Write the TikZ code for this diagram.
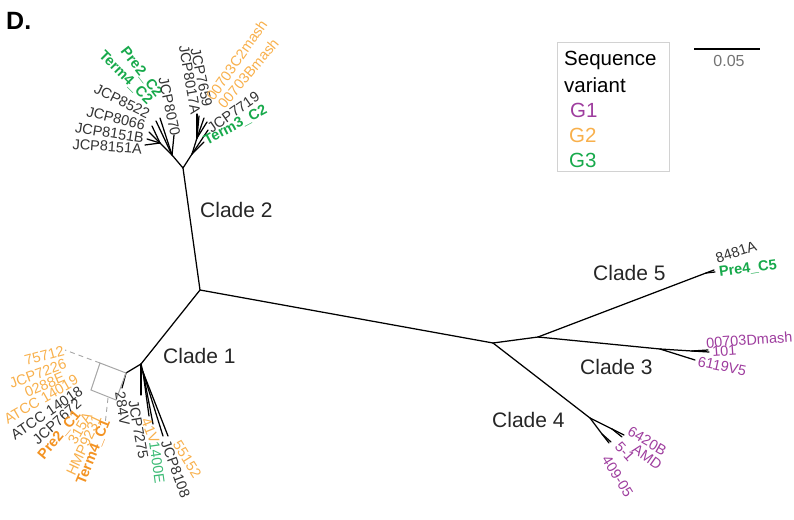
\documentclass[tikz,border=0pt]{standalone}
\usepackage{fontspec}
\setmainfont{Liberation Sans}
\definecolor{gpurple}{HTML}{9E3D9E}
\definecolor{gorange}{HTML}{F8B04C}
\definecolor{dorange}{HTML}{F39323}
\definecolor{ggreen}{HTML}{17A94B}
\definecolor{lgreen}{HTML}{3CBB75}
\definecolor{tgray}{HTML}{333333}
\begin{document}
\begin{tikzpicture}[x=1pt,y=-1pt,
  br/.style={line width=1.25pt, line cap=round, line join=round, black},
  lab/.style={font=\fontsize{14.5}{15}\selectfont, inner sep=1pt, text=tgray},
  blab/.style={font=\bfseries\fontsize{14.5}{15}\selectfont, inner sep=1pt},
  clade/.style={font=\fontsize{21}{21}\selectfont, anchor=base west, inner sep=0pt, text=black!85},
  guide/.style={gray!70, line width=0.9pt, dashed, dash pattern=on 5pt off 4pt},
  legtxt/.style={font=\fontsize{20.5}{21}\selectfont, anchor=base west, inner sep=0pt}]
\useasboundingbox (0,0) rectangle (794,519);

\node[font=\bfseries\fontsize{25}{25}\selectfont, anchor=base west, inner sep=0pt] (title) at (6,30) {D.};

% ---------- internal nodes ----------
\coordinate (R) at (200,290);
\coordinate (c2) at (183,168);
\coordinate (c2L) at (172,155);
\coordinate (c2L2) at (160,143);
\coordinate (c2R) at (192,154);
\coordinate (c2R2) at (197,138);
\coordinate (c1a) at (141,364);
\coordinate (c1b) at (126,373);
\coordinate (c1r) at (143,372);
\coordinate (n1) at (493,343);
\coordinate (n2) at (538,337);
\coordinate (c5) at (706,273);
\coordinate (c3) at (660,349);
\coordinate (c3b) at (692,351);
\coordinate (c4) at (590,418);
\coordinate (c4a) at (612,429);
\coordinate (c4b) at (602,434);

% ---------- tips ----------
\coordinate (t8151A) at (145,145);
\coordinate (t8151B) at (147,139);
\coordinate (t8066) at (149,132);
\coordinate (t8522) at (152,126);
\coordinate (tT4C2) at (156,121);
\coordinate (tP2C2) at (160,118);
\coordinate (t8070) at (174,135);
\coordinate (t7659) at (197,114);
\coordinate (t8017A) at (199,116);
\coordinate (tC2mash) at (204,118);
\coordinate (tBmash) at (207,122);
\coordinate (t7719) at (208,130);
\coordinate (tT3C2) at (204,142);

\coordinate (t284V) at (122,388);
\coordinate (t7275) at (141,395);
\coordinate (t41V) at (149,416);
\coordinate (t1400E) at (153,424);
\coordinate (t8108) at (163,436);
\coordinate (t55152) at (168,436);

\coordinate (t8481A) at (714,270);
\coordinate (tPre4) at (715,272);
\coordinate (tDmash) at (708,350);
\coordinate (t101) at (709,352);
\coordinate (t6119) at (695,360);
\coordinate (t6420B) at (624,435);
\coordinate (tAMD) at (622,437);
\coordinate (t51) at (611,442);
\coordinate (t40905) at (609,443);

% ---------- branches ----------
\draw[br] (R) -- (c2);
\draw[br] (R) -- (n1);
\draw[br] (R) -- (c1a);
\draw[br] (c2) -- (c2L);
\draw[br] (c2) -- (c2R);
\draw[br] (c2L) -- (c2L2);
\draw[br] (c2L2) -- (t8151A);
\draw[br] (c2L2) -- (t8151B);
\draw[br] (c2L2) -- (t8066);
\draw[br] (c2L2) -- (t8522);
\draw[br] (c2L) -- (tT4C2);
\draw[br] (c2L) -- (tP2C2);
\draw[br] (c2L) -- (t8070);
\draw[br] (c2R) -- (c2R2);
\draw[br] (c2R2) -- (t7659);
\draw[br] (c2R2) -- (t8017A);
\draw[br] (c2R2) -- (tC2mash);
\draw[br] (c2R2) -- (tBmash);
\draw[br] (c2R) -- (t7719);
\draw[br] (c2R) -- (tT3C2);

\draw[br] (c1a) -- (c1b);
\draw[br] (c1b) -- (t284V);
\foreach \p [count=\i] in {(104,369),(103,373),(103,377),(104,381),(106,384),(109,387),(113,389),(117,390)}
  { \coordinate (fan\i) at \p; \draw[br, line width=0.9pt] (c1b) -- (fan\i); }
\draw[br] (c1a) -- (t7275);
\draw[br] (c1a) -- (c1r);
\draw[br] (c1r) -- (t41V);
\draw[br] (c1r) -- (t1400E);
\draw[br] (c1r) -- (t8108);
\draw[br] (c1r) -- (t55152);

\draw[br] (n1) -- (n2);
\draw[br] (n2) -- (c5);
\draw[br] (c5) -- (t8481A);
\draw[br] (c5) -- (tPre4);
\draw[br] (n2) -- (c3);
\draw[br] (c3) -- (c3b);
\draw[br] (c3b) -- (tDmash);
\draw[br] (c3b) -- (t101);
\draw[br] (c3) -- (t6119);
\draw[br] (n1) -- (c4);
\draw[br] (c4) -- (c4a);
\draw[br] (c4a) -- (t6420B);
\draw[br] (c4a) -- (tAMD);
\draw[br] (c4) -- (c4b);
\draw[br] (c4b) -- (t51);
\draw[br] (c4b) -- (t40905);

% ---------- zoom box ----------
\coordinate (bx1) at (100,363);
\coordinate (bx2) at (126,373);
\coordinate (bx3) at (116,400);
\coordinate (bx4) at (91,390);
\draw[gray!70, line width=1pt] (bx1) -- (bx2) -- (bx3) -- (bx4) -- cycle;
\coordinate (gA) at (65,350);
\coordinate (gB) at (108,398);
\coordinate (gC) at (105,425);
\draw[guide] (bx1) -- (gA);
\draw[guide] (gB) -- (gC);

% ---------- clade labels ----------
\node[clade] (cl1) at (163,363) {Clade 1};
\node[clade] (cl2) at (200,217) {Clade 2};
\node[clade] (cl3) at (580,374) {Clade 3};
\node[clade] (cl4) at (492,427) {Clade 4};
\node[clade] (cl5) at (593,280) {Clade 5};

% ---------- clade 2 tip labels ----------
\node[lab, anchor=east, rotate=-4] at (143,149) {JCP8151A};
\node[lab, anchor=east, rotate=-9] at (145,138.5) {JCP8151B};
\node[lab, anchor=east, rotate=-14] at (146,126) {JCP8066};
\node[lab, anchor=east, rotate=-26] at (150,115) {JCP8522};
\node[blab, text=ggreen, anchor=east, rotate=-45] at (151,103) {Term4\_C2};
\node[blab, text=ggreen, anchor=east, rotate=-52] at (160,96) {Pre2\_C2};
\node[lab, anchor=east, rotate=-78] at (176,137) {JCP8070};
\node[lab, anchor=east, rotate=-78] at (208,108) {JCP7659};
\node[lab, anchor=east, rotate=-80] at (196,115) {JCP8017A};
\node[lab, text=gorange, anchor=west, rotate=55] at (209,100) {00703C2mash};
\node[lab, text=gorange, anchor=west, rotate=50] at (220,107) {00703Bmash};
\node[lab, anchor=west, rotate=35] at (t7719) {JCP7719};
\node[blab, text=ggreen, anchor=west, rotate=28] at (tT3C2) {Term3\_C2};

% ---------- clade 1 tip labels ----------
\node[lab, text=gorange, anchor=east, rotate=15] (l75712) at (gA) {75712};
\node[lab, text=gorange, anchor=east, rotate=20] at (67,363) {JCP7226};
\node[lab, text=gorange, anchor=east, rotate=23] at (65,376) {0288E};
\node[lab, text=gorange, anchor=east, rotate=30] at (78,378) {ATCC 14019};
\node[lab, anchor=east, rotate=34] at (82,389) {ATCC 14018};
\node[lab, anchor=east, rotate=42] at (80,401) {JCP7672};
\node[blab, text=dorange, anchor=east, rotate=50] at (79,412) {Pre2\_C1};
\node[lab, text=gorange, anchor=east, rotate=60] at (89,413) {315A};
\node[lab, text=gorange, anchor=east, rotate=65] at (98,415) {HMP9231};
\node[blab, text=dorange, anchor=east, rotate=68] at (107,419) {Term4\_C1};
\node[lab, anchor=west, rotate=-82] at (120,391) {284V};
\node[lab, anchor=west, rotate=-80] at (133,399) {JCP7275};
\node[lab, text=gorange, anchor=west, rotate=-68] at (145,418) {41V};
\node[lab, text=lgreen, anchor=west, rotate=-82] at (154,441) {1400E};
\node[lab, anchor=west, rotate=-70] at (165,440) {JCP8108};
\node[lab, text=gorange, anchor=west, rotate=-58] at (176,441) {55152};

% ---------- clades 3,4,5 tip labels ----------
\node[lab, anchor=west, rotate=18] at (715,259) {8481A};
\node[blab, text=ggreen, anchor=west, rotate=8] at (718,273) {Pre4\_C5};
\node[lab, text=gpurple, anchor=west, rotate=4] at (705,343) {00703Dmash};
\node[lab, text=gpurple, anchor=west, rotate=4] at (711,352) {101};
\node[lab, text=gpurple, anchor=west, rotate=-12] at (697,361) {6119V5};
\node[lab, text=gpurple, anchor=west, rotate=-30] at (628,430) {6420B};
\node[lab, text=gpurple, anchor=west, rotate=-35] at (633,447) {AMD};
\node[lab, text=gpurple, anchor=west, rotate=-48] at (617,443) {5-1};
\node[lab, text=gpurple, anchor=west, rotate=-58] at (605,456) {409-05};

% ---------- legend ----------
\draw[gray!35, line width=1pt] (557,43) rectangle (669,171);
\node[legtxt] (lg1) at (564,66) {Sequence};
\node[legtxt] (lg2) at (564,92) {variant};
\node[legtxt, text=gpurple] (lg3) at (570,117) {G1};
\node[legtxt, text=gorange] (lg4) at (569,142) {G2};
\node[legtxt, text=ggreen] (lg5) at (569,167) {G3};

% ---------- scale bar ----------
\coordinate (sb1) at (694,49);
\coordinate (sb2) at (760,49);
\draw[line width=1.5pt] (sb1) -- (sb2);
\node[font=\fontsize{16}{16}\selectfont, text=gray!90!black, anchor=base, inner sep=0pt] (sbl) at (729,66.5) {0.05};
\end{tikzpicture}
\end{document}
